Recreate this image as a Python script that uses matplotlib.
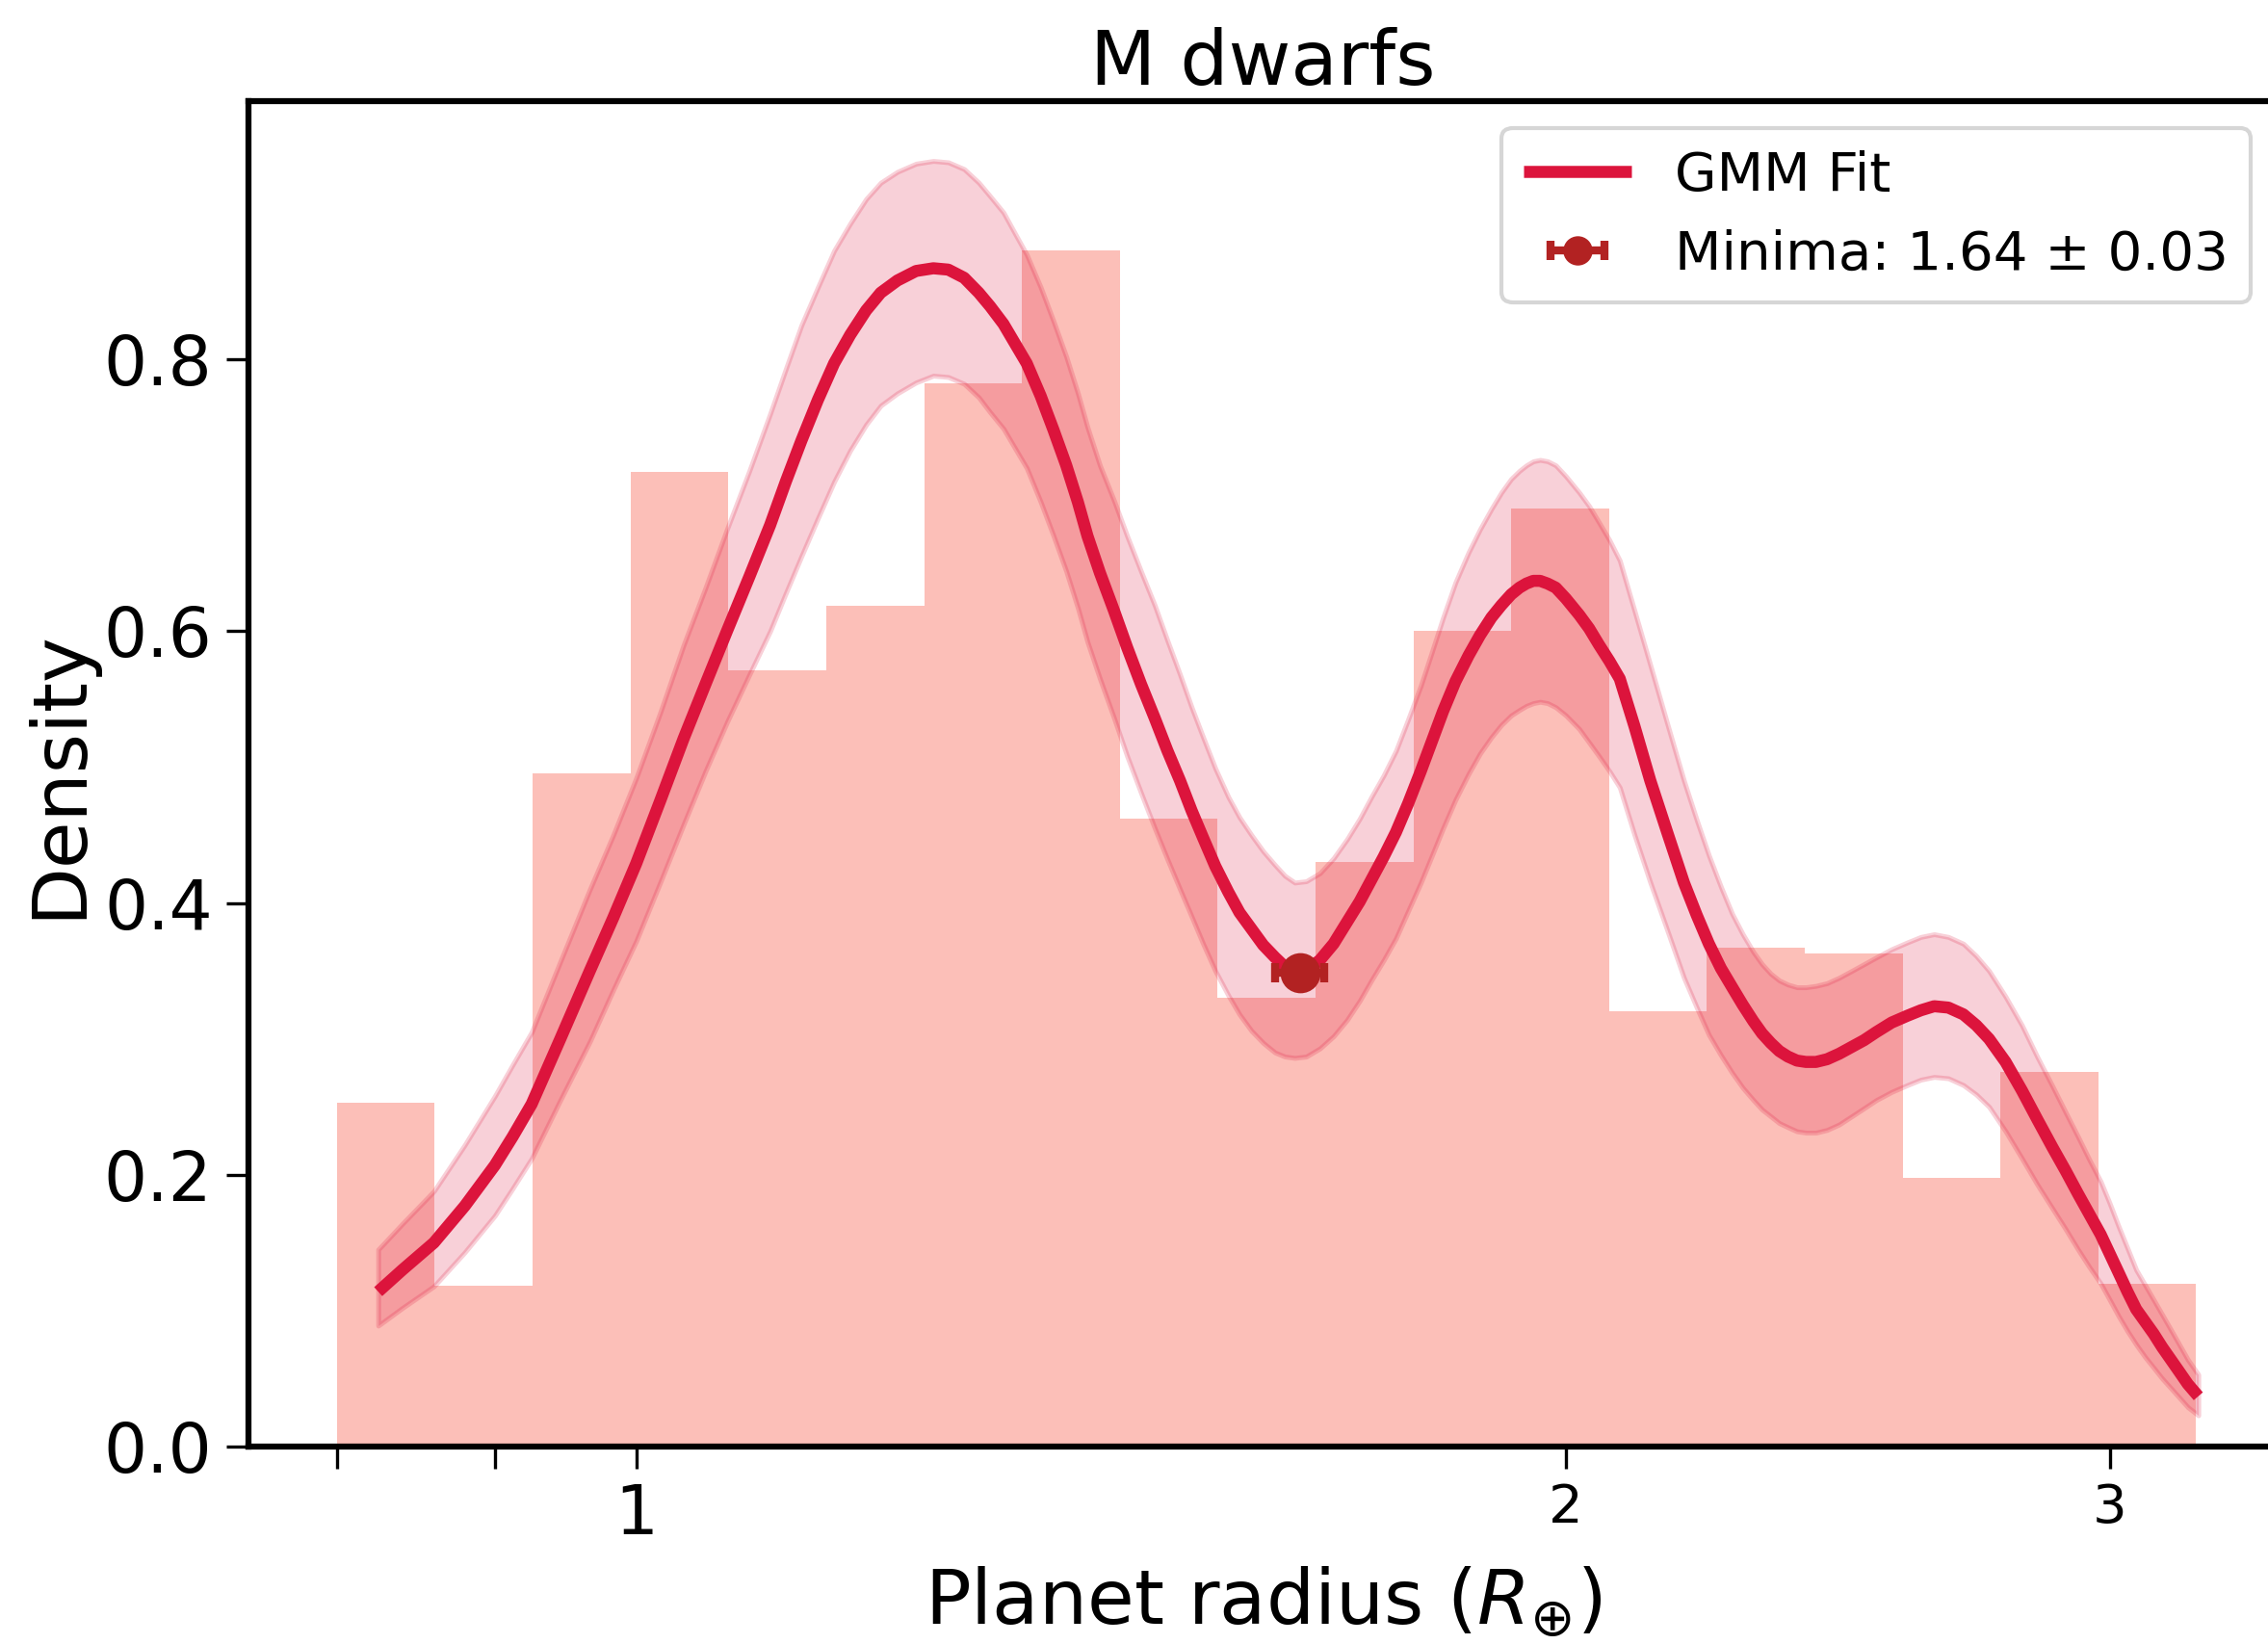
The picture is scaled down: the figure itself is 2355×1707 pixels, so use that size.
import numpy as np
import matplotlib
matplotlib.use("Agg")
import matplotlib.pyplot as plt
from matplotlib.ticker import LogFormatter

# ------------------------------------------------
# Histogram of planet radii (19 log-spaced bins from 0.8 to 3.2)
r_min, r_max, n_bins = 0.8, 3.2, 19
hist_heights = [0.253, 0.118, 0.495, 0.717, 0.571, 0.619, 0.782, 0.880, 0.462, 0.330,
                0.430, 0.600, 0.690, 0.320, 0.367, 0.363, 0.198, 0.276, 0.120]

# GMM fit curve and its uncertainty band
gmm_r = [0.825, 0.84, 0.86, 0.88, 0.90, 0.912, 0.925, 0.945, 0.966, 0.983, 1.00, 1.018, 1.036,
         1.053, 1.07, 1.088, 1.105, 1.118, 1.131, 1.145, 1.159, 1.173, 1.187, 1.20,
         1.215, 1.232, 1.248, 1.262, 1.277, 1.291, 1.302, 1.315, 1.326, 1.338, 1.352,
         1.365, 1.378, 1.39, 1.40, 1.413, 1.428, 1.442, 1.457, 1.472, 1.486, 1.50, 1.513,
         1.526, 1.54, 1.555, 1.568, 1.582, 1.596, 1.61, 1.622, 1.634, 1.648, 1.665, 1.682,
         1.699, 1.715, 1.73, 1.746, 1.762, 1.778, 1.795, 1.81, 1.825, 1.842, 1.86, 1.876,
         1.892, 1.906, 1.92, 1.932, 1.942, 1.952, 1.962, 1.973, 1.985, 2.00, 2.02, 2.035,
         2.05, 2.066, 2.082, 2.105, 2.13, 2.157, 2.184, 2.205, 2.225, 2.245, 2.264, 2.282,
         2.30, 2.315, 2.33, 2.345, 2.36, 2.376, 2.392, 2.41, 2.43, 2.452, 2.475, 2.498,
         2.521, 2.55, 2.58, 2.606, 2.632, 2.66, 2.69, 2.716, 2.742, 2.776, 2.81, 2.842,
         2.875, 2.903, 2.93, 2.955, 2.98, 3.00, 3.02, 3.04, 3.06, 3.08, 3.10, 3.12, 3.14,
         3.16, 3.18, 3.205]
gmm_y = [0.114, 0.130, 0.150, 0.177, 0.207, 0.228, 0.252, 0.300, 0.350, 0.389, 0.429, 0.475,
         0.521, 0.561, 0.600, 0.640, 0.678, 0.710, 0.740, 0.770, 0.797, 0.818, 0.836,
         0.849, 0.858, 0.865, 0.867, 0.866, 0.860, 0.849, 0.839, 0.826, 0.812, 0.797,
         0.773, 0.748, 0.722, 0.695, 0.670, 0.643, 0.615, 0.588, 0.561, 0.536, 0.512,
         0.490, 0.468, 0.448, 0.427, 0.408, 0.393, 0.381, 0.369, 0.360, 0.353, 0.349,
         0.350, 0.358, 0.370, 0.386, 0.401, 0.417, 0.434, 0.452, 0.473, 0.497, 0.519,
         0.541, 0.563, 0.582, 0.597, 0.610, 0.619, 0.627, 0.632, 0.635, 0.637, 0.637,
         0.635, 0.632, 0.624, 0.612, 0.602, 0.590, 0.578, 0.565, 0.530, 0.490, 0.452,
         0.415, 0.391, 0.370, 0.352, 0.338, 0.325, 0.313, 0.304, 0.297, 0.291, 0.287,
         0.284, 0.283, 0.283, 0.285, 0.289, 0.294, 0.299, 0.305, 0.312, 0.317, 0.321,
         0.324, 0.323, 0.318, 0.310, 0.300, 0.283, 0.262, 0.241, 0.220, 0.203, 0.186,
         0.171, 0.156, 0.142, 0.128, 0.114, 0.101, 0.092, 0.083, 0.073, 0.064, 0.055,
         0.046, 0.037]
gmm_hi = [0.145, 0.164, 0.188, 0.222, 0.258, 0.281, 0.305, 0.357, 0.410, 0.450, 0.492, 0.540,
          0.590, 0.632, 0.675, 0.718, 0.760, 0.793, 0.825, 0.853, 0.880, 0.900, 0.918,
          0.930, 0.938, 0.944, 0.946, 0.945, 0.940, 0.930, 0.920, 0.908, 0.893, 0.877,
          0.853, 0.828, 0.802, 0.775, 0.750, 0.722, 0.696, 0.670, 0.644, 0.619, 0.593,
          0.568, 0.544, 0.522, 0.499, 0.478, 0.463, 0.450, 0.438, 0.428, 0.420, 0.415,
          0.416, 0.422, 0.433, 0.447, 0.462, 0.478, 0.494, 0.512, 0.535, 0.560, 0.585,
          0.610, 0.636, 0.658, 0.675, 0.690, 0.702, 0.712, 0.718, 0.722, 0.725, 0.726,
          0.725, 0.722, 0.714, 0.702, 0.692, 0.680, 0.667, 0.652, 0.615, 0.575, 0.532,
          0.490, 0.461, 0.435, 0.412, 0.392, 0.377, 0.364, 0.355, 0.348, 0.343, 0.340,
          0.338, 0.338, 0.339, 0.341, 0.345, 0.350, 0.355, 0.360, 0.366, 0.371, 0.375,
          0.377, 0.375, 0.370, 0.361, 0.350, 0.331, 0.310, 0.287, 0.265, 0.246, 0.228,
          0.211, 0.195, 0.179, 0.162, 0.146, 0.130, 0.119, 0.108, 0.097, 0.086, 0.075,
          0.064, 0.053]
gmm_lo = [0.089, 0.102, 0.118, 0.143, 0.170, 0.190, 0.212, 0.255, 0.298, 0.336, 0.372, 0.415,
          0.458, 0.497, 0.533, 0.568, 0.600, 0.628, 0.655, 0.683, 0.710, 0.733, 0.752,
          0.766, 0.775, 0.783, 0.788, 0.787, 0.782, 0.772, 0.761, 0.749, 0.735, 0.720,
          0.695, 0.670, 0.644, 0.617, 0.592, 0.565, 0.536, 0.508, 0.481, 0.455, 0.432,
          0.410, 0.390, 0.370, 0.350, 0.332, 0.318, 0.306, 0.297, 0.290, 0.287, 0.286,
          0.287, 0.293, 0.302, 0.314, 0.328, 0.343, 0.358, 0.374, 0.394, 0.415, 0.435,
          0.455, 0.476, 0.495, 0.510, 0.522, 0.531, 0.538, 0.542, 0.545, 0.547, 0.548,
          0.547, 0.544, 0.538, 0.528, 0.518, 0.508, 0.497, 0.485, 0.450, 0.415, 0.380,
          0.345, 0.323, 0.303, 0.288, 0.275, 0.264, 0.255, 0.248, 0.243, 0.238, 0.235,
          0.232, 0.231, 0.231, 0.233, 0.237, 0.243, 0.249, 0.255, 0.261, 0.266, 0.270,
          0.272, 0.271, 0.266, 0.259, 0.250, 0.232, 0.212, 0.193, 0.175, 0.160, 0.145,
          0.132, 0.120, 0.108, 0.096, 0.085, 0.075, 0.066, 0.058, 0.050, 0.043, 0.036,
          0.029, 0.023]

# Minimum (radius valley)
min_r = 1.64
min_err = 0.03
min_y = 0.349

# ------------------------------------------------
plt.rcParams['font.family'] = ['DejaVu Sans']

fig = plt.figure(figsize=(2355 / 300, 1707 / 300), dpi=300)
ax = fig.add_axes([0.1096, 0.1201, 0.8946, 0.8184])

bin_edges = np.logspace(np.log10(r_min), np.log10(r_max), n_bins + 1)
ax.hist(bin_edges[:-1], bins=bin_edges, weights=hist_heights,
        color='salmon', alpha=0.5)
ax.fill_between(gmm_r, gmm_lo, gmm_hi, color='crimson', alpha=0.2, linewidth=1.2)
ax.plot(gmm_r, gmm_y, color='crimson', lw=3, label='GMM Fit',
        solid_joinstyle='round', solid_capstyle='butt')
ax.errorbar([min_r], [min_y], xerr=[min_err], fmt='o', color='firebrick',
            markersize=9, elinewidth=2, capsize=2.5, capthick=2,
            label=f'Minima: {min_r:.2f} ± {min_err:.2f}', zorder=5)

ax.set_xscale('log')
ax.set_xlim(0.749, 3.40)
ax.set_ylim(0, 0.99)
ax.set_yticks([0.0, 0.2, 0.4, 0.6, 0.8])
ax.xaxis.set_major_formatter(LogFormatter())
ax.xaxis.set_minor_formatter(LogFormatter(labelOnlyBase=False, minor_thresholds=(1, 0.4)))

ax.set_title('M dwarfs', fontsize=19, pad=4)
ax.set_xlabel(r'Planet radius ($R_{\oplus}$)', fontsize=19)
ax.set_ylabel('Density', fontsize=19, labelpad=2)

ax.tick_params(axis='both', which='major', labelsize=17, length=5.5, width=0.8)
ax.tick_params(axis='x', which='minor', labelsize=13.5, length=5.5, width=0.8)
for s in ax.spines.values():
    s.set_linewidth(1.5)

ax.legend(loc='upper right', fontsize=13.5, markerscale=0.7)

fig.savefig('out.png', dpi=300)
